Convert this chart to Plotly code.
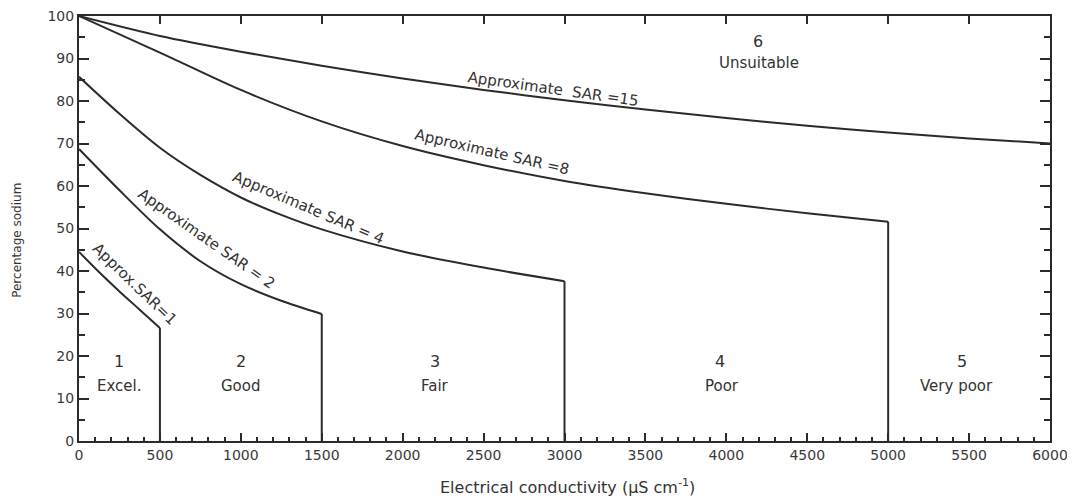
import plotly.graph_objects as go

# ---- data ----
ec_sar15 = [0, 500, 1000, 1500, 2000, 2500, 3000, 3500, 4000, 4500, 5000, 5500, 6000]
na_sar15 = [100, 95.3, 91.6, 88.3, 85.3, 82.6, 80.2, 78.0, 76.0, 74.2, 72.6, 71.2, 70.0]

ec_sar8 = [0, 500, 1000, 1500, 2000, 2500, 3000, 3500, 4000, 4500, 5000]
na_sar8 = [100, 91.4, 82.6, 75.2, 69.4, 64.9, 61.2, 58.3, 55.8, 53.6, 51.6]

ec_sar4 = [0, 250, 500, 750, 1000, 1250, 1500, 2000, 2500, 3000]
na_sar4 = [85.7, 77.0, 69.0, 62.6, 57.3, 53.2, 49.8, 44.6, 40.8, 37.6]

ec_sar2 = [0, 250, 500, 750, 1000, 1250, 1500]
na_sar2 = [68.7, 59.0, 49.8, 42.3, 36.9, 33.0, 29.9]

ec_sar1 = [0, 125, 250, 375, 500]
na_sar1 = [44.5, 39.7, 35.2, 30.9, 26.6]

curve_names = ["Approximate  SAR =15", "Approximate SAR =8", "Approximate SAR = 4",
               "Approximate SAR = 2", "Approx.SAR=1"]
class_numbers = ["1", "2", "3", "4", "5", "6"]
class_names = ["Excel.", "Good", "Fair", "Poor", "Very poor", "Unsuitable"]
x_tick_vals = list(range(0, 6001, 500))
y_tick_vals = list(range(0, 101, 10))

# ---- label placement (positions / styles) ----
curve_label_pos = [(2929, 82.8, 8), (2552, 67.9, 13), (1421, 54.8, 23),
                   (790, 47.5, 35), (345, 37.0, 44)]
class_num_pos = [(250, 18.7), (1000, 18.7), (2200, 18.7), (3962, 18.7), (5455, 18.7), (4198, 94.0)]
class_name_pos = [(250, 12.9), (1000, 12.9), (2200, 12.9), (3975, 12.9), (5424, 12.9), (4203, 88.9)]

LINE = "#2b2b2b"
TXT = "#333333"
FONT = "DejaVu Sans, Liberation Sans, Arial, sans-serif"

fig = go.Figure()
curves = [(ec_sar15, na_sar15, False), (ec_sar8, na_sar8, True), (ec_sar4, na_sar4, True),
          (ec_sar2, na_sar2, True), (ec_sar1, na_sar1, True)]
for xs, ys, drop in curves:
    fig.add_trace(go.Scatter(x=xs, y=ys, mode="lines",
                             line=dict(color=LINE, width=2, shape="spline", smoothing=0.8),
                             hoverinfo="skip", showlegend=False))
    if drop:
        fig.add_trace(go.Scatter(x=[xs[-1], xs[-1]], y=[ys[-1], 0], mode="lines",
                                 line=dict(color=LINE, width=2),
                                 hoverinfo="skip", showlegend=False))

# helper (empty) trace so that the top/right tick axes are drawn
fig.add_trace(go.Scatter(x=[], y=[], xaxis="x2", yaxis="y2", showlegend=False, hoverinfo="skip"))

for name, (x, y, ang) in zip(curve_names, curve_label_pos):
    fig.add_annotation(x=x, y=y, text=name, showarrow=False, textangle=ang,
                       font=dict(family=FONT, size=15, color=TXT))
for t, (x, y) in zip(class_numbers, class_num_pos):
    fig.add_annotation(x=x, y=y, text=t, showarrow=False,
                       font=dict(family=FONT, size=16, color=TXT))
for t, (x, y) in zip(class_names, class_name_pos):
    fig.add_annotation(x=x, y=y, text=t, showarrow=False,
                       font=dict(family=FONT, size=15, color=TXT))

fig.add_annotation(xref="paper", yref="paper", x=-0.064, y=0.473, xanchor="center",
                   yanchor="middle", text="Percentage sodium",
                   textangle=-90, showarrow=False, font=dict(family=FONT, size=12, color=TXT))
fig.add_annotation(xref="paper", yref="paper", x=0.503, y=-0.108, xanchor="center",
                   yanchor="middle", text="Electrical conductivity (μS cm<sup>-1</sup>)",
                   showarrow=False, font=dict(family=FONT, size=16, color=TXT))

# the page body has an 8px offset, so margins are reduced by 8px on the left/top
fig.update_layout(
    width=1075, height=499, autosize=False,
    margin=dict(l=71, r=33, t=8, b=66, autoexpand=False),
    paper_bgcolor="white", plot_bgcolor="white",
    font=dict(family=FONT, color=TXT),
    xaxis=dict(range=[0, 6000], tickvals=x_tick_vals, ticks="inside", ticklen=8, tickwidth=2,
               tickcolor=LINE, showline=True, linecolor=LINE, linewidth=2, mirror=True,
               showgrid=False, zeroline=False, ticklabeloverflow="allow",
               tickfont=dict(family=FONT, size=14, color="#3a3a3a"),
               minor=dict(dtick=100, ticks="inside", ticklen=4, tickwidth=1.5, tickcolor=LINE)),
    yaxis=dict(range=[0, 100], tickvals=y_tick_vals, ticks="inside", ticklen=10, tickwidth=2,
               tickcolor=LINE, showline=True, linecolor=LINE, linewidth=2, mirror=True,
               showgrid=False, zeroline=False, ticklabeloverflow="allow",
               tickfont=dict(family=FONT, size=14, color="#3a3a3a"),
               minor=dict(dtick=5, ticks="inside", ticklen=6, tickwidth=1.5, tickcolor=LINE)),
    xaxis2=dict(range=[0, 6000], overlaying="x", side="top", tickvals=x_tick_vals,
                ticks="inside", ticklen=8, tickwidth=2, tickcolor=LINE, showticklabels=False,
                showgrid=False, zeroline=False, showline=False),
    yaxis2=dict(range=[0, 100], overlaying="y", side="right", tickvals=y_tick_vals,
                ticks="inside", ticklen=10, tickwidth=2, tickcolor=LINE, showticklabels=False,
                showgrid=False, zeroline=False, showline=False,
                minor=dict(dtick=5, ticks="inside", ticklen=6, tickwidth=1.5, tickcolor=LINE)),
)

fig.write_html("out.html")
